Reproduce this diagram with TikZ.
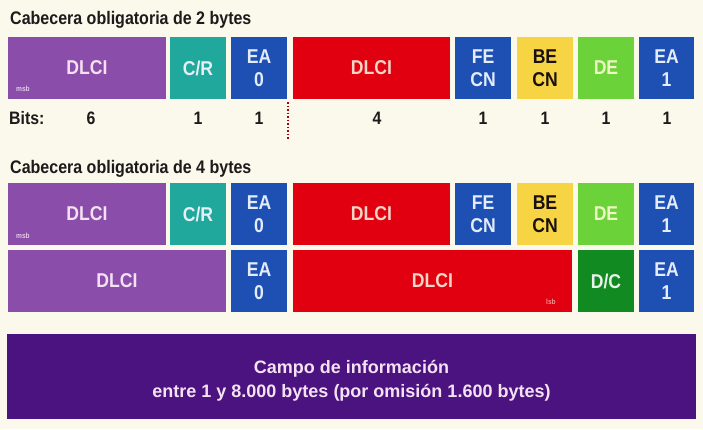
\documentclass[tikz,border=0pt]{standalone}
\usepackage{fontspec}
\setmainfont{Liberation Sans}[FakeStretch=0.88]
\newfontfamily\widefont{Liberation Sans}
\definecolor{bgc}{HTML}{FBF8EC}
\definecolor{cpurple}{HTML}{8B4DAA}
\definecolor{cteal}{HTML}{20A89C}
\definecolor{cblue}{HTML}{1E50B4}
\definecolor{cred}{HTML}{E0000F}
\definecolor{cyellow}{HTML}{F6D444}
\definecolor{cgreen}{HTML}{6CD23A}
\definecolor{cdkgreen}{HTML}{128A22}
\definecolor{cdeep}{HTML}{4A1380}
\definecolor{tpurple}{HTML}{F4E2F2}
\definecolor{tteal}{HTML}{E6EEF6}
\definecolor{tblue}{HTML}{E4ECFA}
\definecolor{tred}{HTML}{F9D5C8}
\definecolor{tdark}{HTML}{1A1010}
\definecolor{tgreen}{HTML}{EEF7C4}
\definecolor{tdkgreen}{HTML}{E8F2E8}
\definecolor{tink}{HTML}{1C1A1A}
\begin{document}
\begin{tikzpicture}[x=1pt,y=-1pt,
  fld/.style={draw=none, inner sep=0pt, outer sep=0pt, anchor=north west,
    font=\bfseries\fontsize{20}{23}\selectfont, align=center, minimum height=62pt},
  w56/.style={minimum width=56pt},
  purplebox/.style={fld, fill=cpurple, text=tpurple},
  tealbox/.style={fld, w56, fill=cteal, text=tteal},
  bluebox/.style={fld, w56, fill=cblue, text=tblue},
  redbox/.style={fld, fill=cred, text=tred},
  yellowbox/.style={fld, w56, fill=cyellow, text=tdark},
  greenbox/.style={fld, w56, fill=cgreen, text=tgreen},
  dkgreenbox/.style={fld, w56, fill=cdkgreen, text=tdkgreen},
  titletxt/.style={anchor=base west, inner sep=0pt, text=tink, font=\bfseries\fontsize{18.2}{22}\selectfont},
  bitstxt/.style={anchor=base, inner sep=0pt, text=tink, font=\bfseries\fontsize{18}{21}\selectfont},
  tinytxt/.style={anchor=west, inner sep=0pt, font=\bfseries\fontsize{7.5}{8}\selectfont},
  infotxt/.style={inner sep=0pt, align=center, text=tpurple, font=\widefont\bfseries\fontsize{18}{24}\selectfont}
]
\fill[bgc] (0,0) rectangle (703,429);
\useasboundingbox (0,0) rectangle (703,429);

% Title 1
\node[titletxt] (t1) at (10,24) {Cabecera obligatoria de 2 bytes};

% Row 1
\node[purplebox, minimum width=158pt] (dlciA) at (8,37) {DLCI};
\node[tinytxt, text=tpurple!85!cpurple] (msbA) at (16,89) {msb};
\node[tealbox] (crA) at (170,37) {C/R};
\node[bluebox] (eaA) at (231,37) {EA\\0};
\node[redbox, minimum width=157pt] (dlciB) at (293,37) {DLCI};
\node[bluebox] (fecnA) at (455,37) {FE\\CN};
\node[yellowbox] (becnA) at (517,37) {BE\\CN};
\node[greenbox] (deA) at (578,37) {DE};
\node[bluebox, minimum width=55pt] (eaB) at (639,37) {EA\\1};

% Bits row
\node[bitstxt, anchor=base west] (bits) at (9,124) {Bits:};
\node[bitstxt] (b1) at (91,124) {6};
\node[bitstxt] (b2) at (198,124) {1};
\node[bitstxt] (b3) at (259,124) {1};
\node[bitstxt] (b4) at (377,124) {4};
\node[bitstxt] (b5) at (483,124) {1};
\node[bitstxt] (b6) at (545,124) {1};
\node[bitstxt] (b7) at (606,124) {1};
\node[bitstxt] (b8) at (667,124) {1};
\coordinate (dotA) at (288,102);
\coordinate (dotB) at (288,140);
\draw[cred!75!black, line width=1.5pt, dotted] (dotA) -- (dotB);

% Title 2
\node[titletxt] (t2) at (10,173) {Cabecera obligatoria de 4 bytes};

% Row 2
\node[purplebox, minimum width=158pt] (dlciC) at (8,183) {DLCI};
\node[tinytxt, text=tpurple!85!cpurple] (msbB) at (16,236) {msb};
\node[tealbox] (crB) at (170,183) {C/R};
\node[bluebox] (eaC) at (231,183) {EA\\0};
\node[redbox, minimum width=157pt] (dlciD) at (293,183) {DLCI};
\node[bluebox] (fecnB) at (455,183) {FE\\CN};
\node[yellowbox] (becnB) at (517,183) {BE\\CN};
\node[greenbox] (deB) at (578,183) {DE};
\node[bluebox, minimum width=55pt] (eaD) at (639,183) {EA\\1};

% Row 3
\node[purplebox, minimum width=218pt] (dlciE) at (8,250) {DLCI};
\node[bluebox] (eaE) at (231,250) {EA\\0};
\node[redbox, minimum width=279pt] (dlciF) at (293,250) {DLCI};
\node[tinytxt, text=tred!70!cred] (lsb) at (546,302) {lsb};
\node[dkgreenbox] (dc) at (578,250) {D/C};
\node[bluebox, minimum width=55pt] (eaF) at (639,250) {EA\\1};

% Information field
\node[fld, fill=cdeep, minimum width=689pt, minimum height=85pt] (info) at (7,334) {};
\node[infotxt, anchor=base] (infotext) at (351.5,397) {Campo de información\\entre 1 y 8.000 bytes (por omisión 1.600 bytes)};
\end{tikzpicture}
\end{document}
